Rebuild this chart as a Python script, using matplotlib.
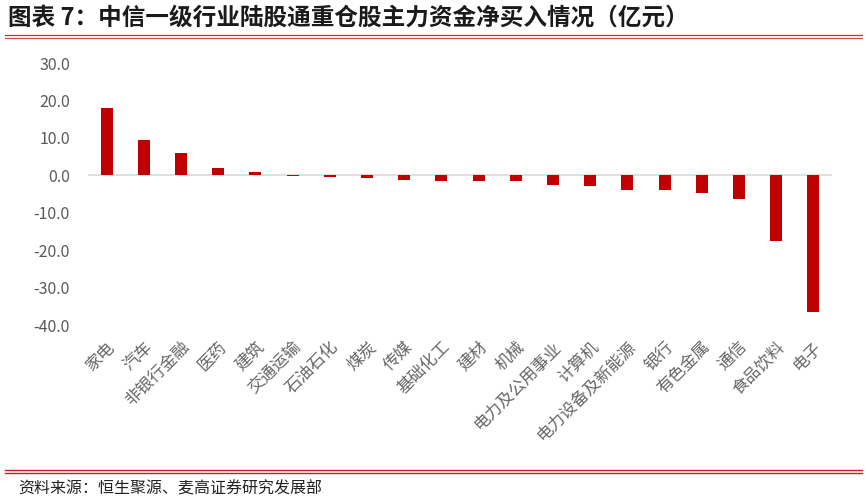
import matplotlib
matplotlib.use("Agg")
import matplotlib.pyplot as plt
from matplotlib.lines import Line2D

plt.rcParams['font.family'] = ['Noto Sans CJK SC', 'DejaVu Sans']
plt.rcParams['axes.unicode_minus'] = False

categories = ["家电", "汽车", "非银行金融", "医药", "建筑", "交通运输", "石油石化", "煤炭",
              "传媒", "基础化工", "建材", "机械", "电力及公用事业", "计算机", "电力设备及新能源",
              "银行", "有色金属", "通信", "食品饮料", "电子"]
values = [17.9, 9.3, 6.0, 1.9, 0.8, -0.2, -0.4, -0.8, -1.2, -1.4, -1.4, -1.4,
          -2.5, -2.8, -4.0, -4.0, -4.8, -6.2, -17.6, -36.6]
yticks = [30, 20, 10, 0, -10, -20, -30, -40]

W, H = 867, 501
fig = plt.figure(figsize=(W / 100, H / 100), dpi=100)

ax = fig.add_axes([88 / W, 1 - 330 / H, (832 - 88) / W, (330 - 58) / H])
x = range(len(categories))
ax.bar(x, values, width=0.32, color="#c00000", zorder=3)
ax.axhline(0, color="#d9d9d9", lw=1.2, zorder=2)
ax.set_xlim(-0.5, len(categories) - 0.5)
ax.set_ylim(-41.33, 31.34)
ax.set_yticks(yticks)
ax.set_yticklabels([f"{v:.1f}" for v in yticks], color="#595959", fontsize=11.5)
ax.set_xticks(list(x))
ax.set_xticklabels(categories, rotation=45, ha="right", rotation_mode="anchor",
                   color="#666666", fontsize=12, fontweight="light")
ax.tick_params(axis="both", length=0)
ax.tick_params(axis="x", pad=6)
ax.tick_params(axis="y", pad=13)
for s in ax.spines.values():
    s.set_visible(False)

fig.text(8 / W, 1 - 18 / H, "图表 7：中信一级行业陆股通重仓股主力资金净买入情况（亿元）",
         fontsize=17, fontweight="bold", color="#1a1a1a", va="center", ha="left")

for yy, c in [(35.3, "#b03a3a"), (37.7, "#c0504d")]:
    fig.add_artist(Line2D([5 / W, 862 / W], [1 - yy / H, 1 - yy / H], color=c, lw=0.9))
for yy in [470.3, 472.7]:
    fig.add_artist(Line2D([5 / W, 862 / W], [1 - yy / H, 1 - yy / H], color="#c0211a", lw=1.0))

fig.text(18 / W, 1 - 489 / H, "资料来源：恒生聚源、麦高证券研究发展部",
         fontsize=11.5, color="#222222", va="center", ha="left")

fig.savefig("out.png", dpi=100)
